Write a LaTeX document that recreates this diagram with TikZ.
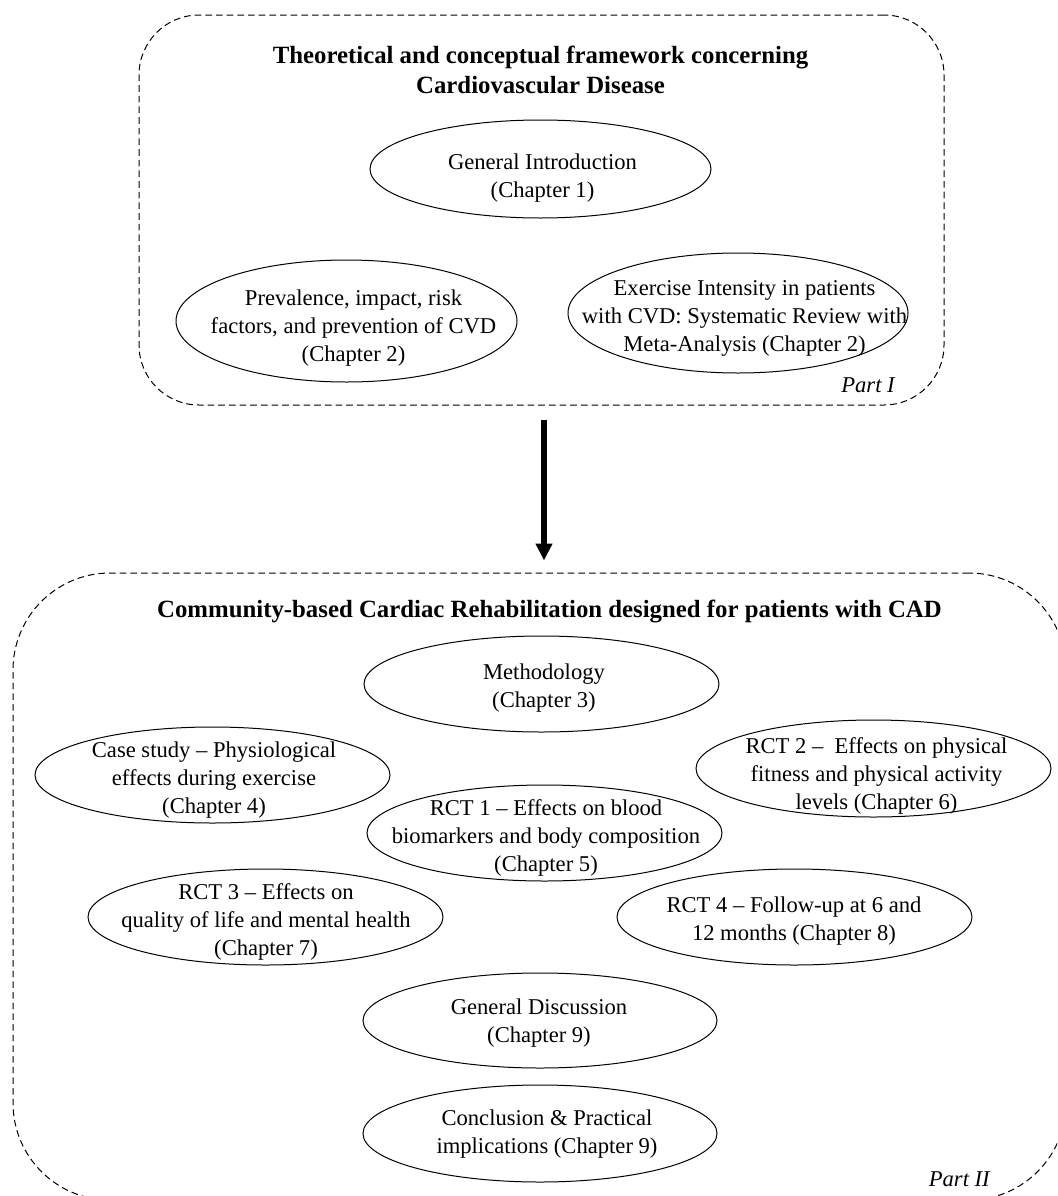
\documentclass[tikz,border=0pt]{standalone}
\usepackage{fontspec}
\setmainfont{Liberation Serif}
\usetikzlibrary{shapes.geometric,arrows.meta}
\begin{document}
\begin{tikzpicture}[x=0.75pt,y=-0.75pt,
  partbox/.style={draw, line width=0.75pt, dash pattern=on 5pt off 3pt, inner sep=0pt},
  oval/.style={draw, ellipse, line width=0.75pt, inner sep=0pt, minimum width=266.25pt, minimum height=72pt},
  txt/.style={align=center, inner sep=0pt, font=\fontsize{16.95}{21}\selectfont},
  ttl/.style={align=center, inner sep=0pt, font=\fontsize{18.6}{22.5}\selectfont\bfseries},
  partlbl/.style={anchor=base east, inner sep=0pt, font=\fontsize{16.95}{21}\selectfont\itshape},
  bigarrow/.style={line width=3.8pt, -{Triangle[width=12pt,length=12.75pt]}, shorten <=10.5pt, shorten >=9pt}
]
\useasboundingbox (0,0) rectangle (1057,1196);
\clip (0,0) rectangle (1057,1196);

% part boxes
\node[partbox, rounded corners=45pt, minimum width=603.75pt, minimum height=292.5pt] (p1) at (541.5,210) {};
\node[partbox, rounded corners=72.75pt, minimum width=789.75pt, minimum height=470.25pt] (p2) at (539.5,886.5) {};

% Part I
\node[ttl] (t1) at (540.5,70) {Theoretical and conceptual framework concerning\\Cardiovascular Disease};
\node[oval, minimum width=255.75pt, minimum height=73.5pt] (gi) at (540.5,169) {};
\node[txt] (gi-t) at (542.5,178.5) {General Introduction\\(Chapter 1)};
\node[oval, minimum width=255.75pt, minimum height=91.5pt] (prev) at (346.5,321) {};
\node[txt] (prev-t) at (353.5,328.5) {Prevalence, impact, risk\\factors, and prevention of CVD\\(Chapter 2)};
\node[oval, minimum width=255pt, minimum height=90pt] (exer) at (738,313) {};
\node[txt] (exer-t) at (744.5,318.5) {Exercise Intensity in patients\\with CVD: Systematic Review with\\Meta-Analysis (Chapter 2)};
\node[partlbl] (pl1) at (895,392) {Part I};

% arrow
\coordinate (ax) at (544,0);
\draw[bigarrow] (p1.south -| ax) -- (p2.north -| ax);

% Part II
\node[ttl, anchor=base] (t2) at (549.5,617) {Community-based Cardiac Rehabilitation designed for patients with CAD};
\node[oval] (meth) at (541.5,684) {};
\node[txt] (meth-t) at (544,688) {Methodology\\(Chapter 3)};
\node[oval] (case) at (212.5,775) {};
\node[txt] (case-t) at (214,780) {Case study – Physiological\\effects during exercise\\(Chapter 4)};
\node[oval, minimum height=72.75pt] (rct2) at (873.5,768.5) {};
\node[txt] (rct2-t) at (876.5,775.5) {RCT 2 –~ Effects on physical\\fitness and physical activity\\levels (Chapter 6)};
\node[oval] (rct1) at (544.5,833) {};
\node[txt] (rct1-t) at (546,838) {RCT 1 – Effects on blood\\biomarkers and body composition\\(Chapter 5)};
\node[oval] (rct3) at (265.5,917) {};
\node[txt] (rct3-t) at (266,921.5) {RCT 3 – Effects on\\quality of life and mental health\\(Chapter 7)};
\node[oval] (rct4) at (794.5,917) {};
\node[txt] (rct4-t) at (794,921) {RCT 4 – Follow-up at 6 and\\12 months (Chapter 8)};
\node[oval, minimum width=265.5pt, minimum height=71.25pt] (gd) at (540,1020.5) {};
\node[txt] (gd-t) at (539,1023.5) {General Discussion\\(Chapter 9)};
\node[oval, minimum width=265.5pt, minimum height=72.75pt] (conc) at (540,1133.5) {};
\node[txt] (conc-t) at (547,1134) {Conclusion \& Practical\\implications (Chapter 9)};
\node[partlbl] (pl2) at (990,1186) {Part II};
\end{tikzpicture}
\end{document}
